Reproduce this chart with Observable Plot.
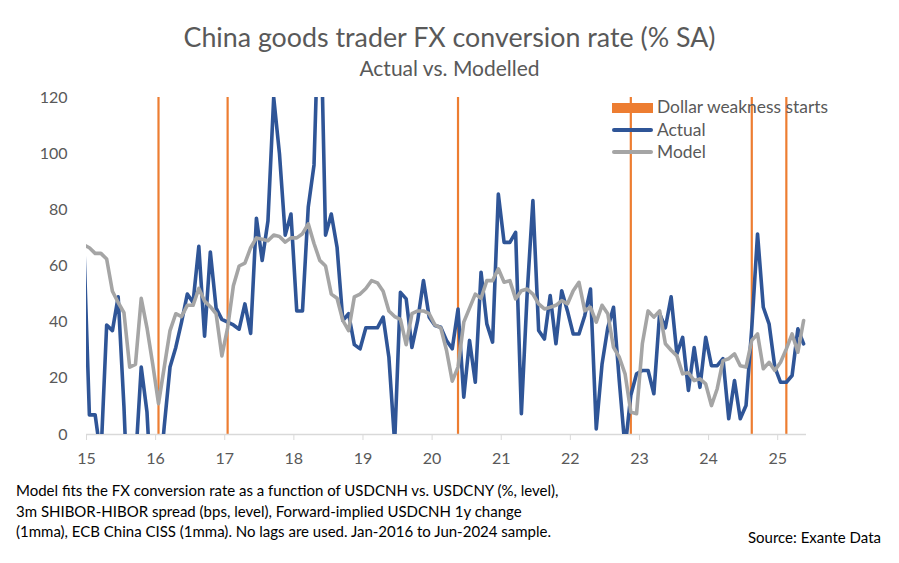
<!DOCTYPE html>
<html>
<head>
<meta charset="utf-8">
<script src="https://cdn.jsdelivr.net/npm/d3@7"></script>
<script src="https://cdn.jsdelivr.net/npm/@observablehq/plot@0.6"></script>
<style>
  html, body { margin: 0; padding: 0; background: #fff; }
  #wrap { position: relative; width: 899px; height: 563px; overflow: hidden; font-family: Lato, "Open Sans", sans-serif; color: #595959; }
  .abs { position: absolute; white-space: nowrap; }
  #title { left: 0; width: 899px; top: 21px; text-align: center; font-size: 26.8px; line-height: 32px; }
  #subtitle { left: 0; width: 899px; top: 55px; text-align: center; font-size: 21px; line-height: 26px; }
  #chart { position: absolute; left: 0; top: 80px; }
  #note { left: 16px; top: 480px; font-size: 15px; line-height: 20.5px; color: #000; }
  #source { right: 18px; top: 527px; font-size: 15px; line-height: 20px; color: #000; }
  .lg-text { font-size: 17.4px; line-height: 20px; left: 657px; }
</style>
</head>
<body>
<div id="wrap">
  <div id="title" class="abs">China goods trader FX conversion rate (% SA)</div>
  <div id="subtitle" class="abs">Actual vs. Modelled</div>
  <div id="chart"></div>
  <div class="abs" style="left:612px;top:103px;width:41px;height:10px;background:#ED7D31"></div>
  <div class="abs lg-text" style="top:97px">Dollar weakness starts</div>
  <div class="abs" style="left:612px;top:128px;width:41px;height:4px;border-radius:2px;background:#2F5597"></div>
  <div class="abs lg-text" style="top:120px">Actual</div>
  <div class="abs" style="left:612px;top:150px;width:41px;height:4px;border-radius:2px;background:#A5A5A5"></div>
  <div class="abs lg-text" style="top:142px">Model</div>
  <div id="note" class="abs">Model fits the FX conversion rate as a function of USDCNH vs. USDCNY (%, level),<br>3m SHIBOR-HIBOR spread (bps, level), Forward-implied USDCNH 1y change<br>(1mma), ECB China CISS (1mma). No lags are used. Jan-2016 to Jun-2024 sample.</div>
  <div id="source" class="abs">Source: Exante Data</div>
</div>
<script>
// Monthly series, first value = Dec 2014, last = May 2025
const startMonth = "2014-12";
const actual = [
  70,
  7, 7, -8, 39, 37, 49, 10, -40, -10, 24, 8, -30,
  -20, 3, 24, 31, 40, 50, 47, 67, 35, 65, 45, 41,
  40, 39, 37.5, 46.5, 36, 77, 62, 76, 120, 100, 71, 78.5,
  44, 44, 81, 96, 165, 71, 78.5, 66.7, 40.6, 43, 32, 30.5,
  38, 38, 38, 41.8, 27.5, -3, 50.6, 48.3, 31, 40.6, 54.8, 41.8,
  38.8, 38.2, 33.5, 30.5, 44.7, 13.3, 33.5, 18.6, 57.8, 39.4, 32.9, 85.6,
  68.4, 68.4, 72, 7.4, 50, 83.3, 37, 34, 49.5, 32.3, 51.2, 44,
  35.8, 35.8, 42.3, 51.8, 2, 25, 38, 45.3, 19, -5, 14, 21.6,
  22.8, 22.8, 14.5, 43, 38, 49, 28.7, 34.6, 15.7, 31, 16.8, 34.6,
  24.5, 24.5, 27, 5.6, 19.2, 5.6, 10.3, 38, 71.4, 45.3, 39.4, 24,
  18.6, 18.6, 21, 37.6, 32.3
];
const model = [
  67.5,
  66.5, 64.5, 64.5, 62.5, 51, 47, 43.4, 24, 25, 48.5, 38, 25,
  11, 24, 37, 43, 42, 46, 46, 52, 47.5, 45.5, 43, 28,
  38, 53, 60, 61, 66.5, 70, 69.5, 69, 71, 70.5, 68.5, 70,
  70, 71.5, 75, 68, 62, 60, 50, 48.5, 40.6, 37, 49, 50,
  52, 54.8, 54, 51, 44, 42, 41, 32, 43, 44, 44, 43,
  39, 38, 30, 19, 24, 40, 45, 50, 48.5, 54.8, 54.8, 59,
  54.2, 54.8, 48.3, 51.2, 51.8, 50, 46.5, 44.7, 45.3, 46, 47.7, 46.5,
  51.2, 54.2, 44.1, 45.3, 40, 46, 43, 31, 27.5, 21.6, 8, 7.4,
  32.3, 44, 41.8, 44, 32.3, 30, 28, 21.6, 22, 19.2, 19.8, 18,
  10.3, 16.3, 26.3, 27, 28.7, 24.5, 24, 33.5, 35.8, 23.4, 25.7, 22.8,
  25.7, 30.5, 35.8, 29.3, 40.6
];
const weaknessMonths = ["2016-01", "2017-01", "2020-05", "2022-11", "2024-08", "2025-02"];
const weaknessValue = 120;
const yTicks = [0, 20, 40, 60, 80, 100, 120];
const xTickLabels = ["15", "16", "17", "18", "19", "20", "21", "22", "23", "24", "25"];

// month "YYYY-MM" -> position in years since 2000, at the middle of the month
function pos(ym) {
  const [y, m] = ym.split("-").map(Number);
  return (y - 2000) + (m - 1 + 0.5) / 12;
}
function addMonths(ym, k) {
  const [y, m] = ym.split("-").map(Number);
  const t = y * 12 + (m - 1) + k;
  return `${Math.floor(t / 12)}-${String(t % 12 + 1).padStart(2, "0")}`;
}
const rows = actual.map((v, i) => {
  const month = addMonths(startMonth, i);
  return {month, x: pos(month), actual: v, model: model[i]};
});
const bars = weaknessMonths.map(m => ({x: pos(m), v: weaknessValue}));
const xTicks = xTickLabels.map(Number);

const chart = Plot.plot({
  width: 899,
  height: 390,
  marginTop: 17,
  marginBottom: 36,
  marginLeft: 86,
  marginRight: 93,
  style: {fontFamily: "Lato, 'Open Sans', sans-serif", fontSize: "16px", color: "#595959", background: "transparent"},
  x: {domain: [15, 25 + 5 / 12], label: null},
  y: {domain: [0, 120], label: null},
  marks: [
    Plot.ruleX(bars, {x: "x", y1: 0, y2: "v", stroke: "#ED7D31", strokeWidth: 2.2}),
    Plot.ruleY([0], {stroke: "#d9d9d9", strokeWidth: 1.5}),
    Plot.axisY({ticks: yTicks, tickSize: 0, tickPadding: 19, fill: "#595959", fontSize: 16, label: null}),
    Plot.axisX({ticks: xTicks, tickFormat: (d, i) => xTickLabels[i], tickSize: 6, tickPadding: 12, stroke: "#d9d9d9", fill: "#595959", fontSize: 16, label: null}),
    Plot.line(rows, {x: "x", y: "actual", stroke: "#2F5597", strokeWidth: 3.6, strokeLinejoin: "round", strokeLinecap: "round", clip: true}),
    Plot.line(rows, {x: "x", y: "model", stroke: "#A5A5A5", strokeWidth: 3.6, strokeLinejoin: "round", strokeLinecap: "round", clip: true})
  ]
});
document.getElementById("chart").appendChild(chart);
</script>
</body>
</html>
